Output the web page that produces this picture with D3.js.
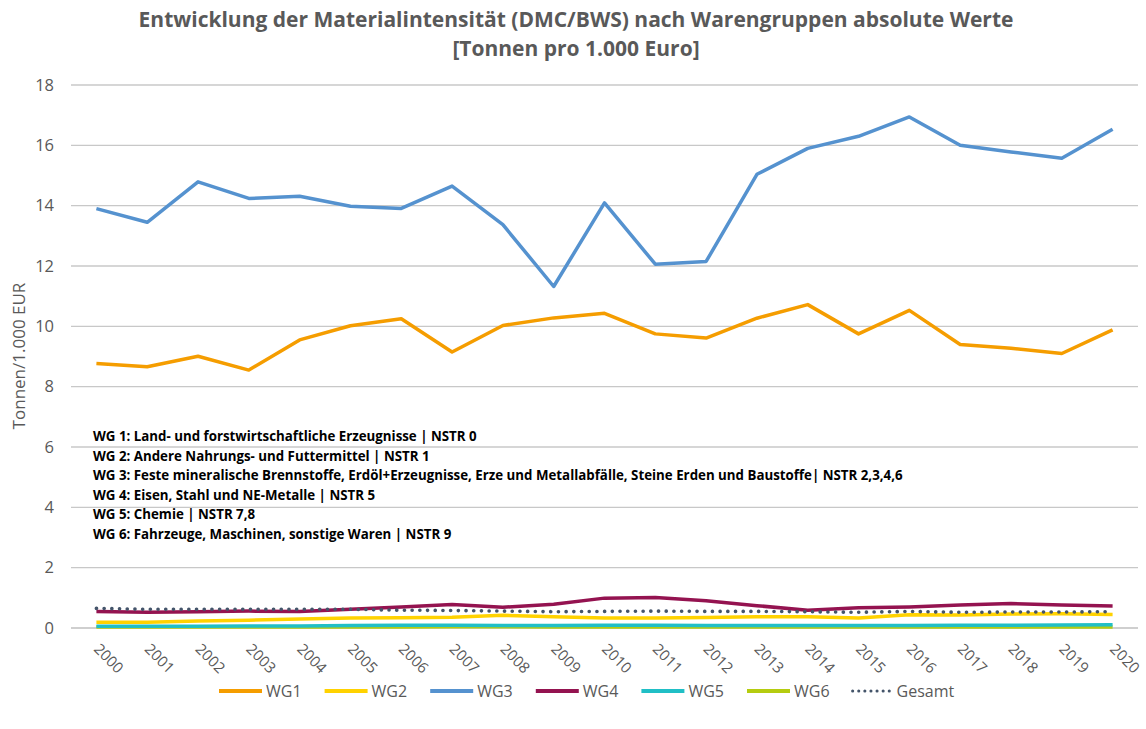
<!DOCTYPE html>
<html>
<head>
<meta charset="utf-8">
<script src="https://cdn.jsdelivr.net/npm/d3@7"></script>
<style>
  body { margin: 0; background: #fff; }
  svg { display: block; }
  text { font-family: "Open Sans", "Noto Sans", sans-serif; }
</style>
</head>
<body>
<div id="chart"></div>
<script>

var years = ["2000","2001","2002","2003","2004","2005","2006","2007","2008","2009","2010",
             "2011","2012","2013","2014","2015","2016","2017","2018","2019","2020"];

var wg1 = [8.77,8.66,9.01,8.55,9.55,10.02,10.25,9.15,10.03,10.28,10.43,9.75,9.61,10.27,10.72,9.75,10.53,9.40,9.27,9.10,9.88];
var wg2 = [0.19,0.19,0.23,0.26,0.30,0.33,0.34,0.36,0.42,0.37,0.33,0.33,0.35,0.37,0.37,0.33,0.44,0.43,0.46,0.47,0.45];
var wg3 = [13.90,13.45,14.79,14.24,14.31,13.98,13.91,14.65,13.37,11.32,14.09,12.06,12.15,15.04,15.90,16.30,16.94,16.00,15.78,15.57,16.53];
var wg4 = [0.55,0.52,0.54,0.56,0.55,0.62,0.70,0.78,0.69,0.79,0.99,1.01,0.90,0.74,0.59,0.67,0.70,0.76,0.81,0.76,0.73];
var wg5 = [0.06,0.06,0.06,0.07,0.07,0.08,0.09,0.09,0.08,0.08,0.09,0.09,0.08,0.08,0.08,0.08,0.08,0.09,0.09,0.10,0.11];
var wg6 = [0.03,0.03,0.03,0.03,0.03,0.03,0.03,0.04,0.04,0.03,0.03,0.03,0.03,0.03,0.03,0.03,0.03,0.03,0.03,0.03,0.03];
var gesamt = [0.65,0.62,0.62,0.62,0.62,0.62,0.59,0.58,0.56,0.54,0.55,0.56,0.55,0.55,0.54,0.52,0.55,0.52,0.53,0.53,0.54];

var yTicks = [0,2,4,6,8,10,12,14,16,18];

var notes = [
    "WG 1: Land- und forstwirtschaftliche Erzeugnisse | NSTR 0",
    "WG 2: Andere Nahrungs- und Futtermittel | NSTR 1",
    "WG 3: Feste mineralische Brennstoffe, Erdöl+Erzeugnisse, Erze und Metallabfälle, Steine Erden und Baustoffe| NSTR 2,3,4,6",
    "WG 4: Eisen, Stahl und NE-Metalle | NSTR 5",
    "WG 5: Chemie | NSTR 7,8",
    "WG 6: Fahrzeuge, Maschinen, sonstige Waren | NSTR 9"
];

// drawing order: the small ones first, big ones on top
var series = [
    { name: "WG6", values: wg6, color: "#b5cc10", dash: null },
    { name: "WG5", values: wg5, color: "#20bfc6", dash: null },
    { name: "WG2", values: wg2, color: "#ffd200", dash: null },
    { name: "WG4", values: wg4, color: "#941350", dash: null },
    { name: "Gesamt", values: gesamt, color: "#44546a", dash: "0.1 7.6" },
    { name: "WG3", values: wg3, color: "#5592cf", dash: null },
    { name: "WG1", values: wg1, color: "#f59d00", dash: null }
];
var legendOrder = ["WG1","WG2","WG3","WG4","WG5","WG6","Gesamt"];

var width = 1146, height = 729;
var plotLeft = 71, plotRight = 1138, plotTop = 85, plotBottom = 628;

var svg = d3.select("#chart").append("svg")
    .attr("width", width)
    .attr("height", height);

var x = d3.scalePoint().domain(years).range([plotLeft, plotRight]).padding(0.5);
var y = d3.scaleLinear().domain([0, 18]).range([plotBottom, plotTop]);

// title
var title = svg.append("text")
    .attr("x", 576)
    .attr("y", 27)
    .attr("text-anchor", "middle")
    .style("font-size", "21px")
    .style("font-weight", "bold")
    .style("fill", "#595959");
title.append("tspan").attr("x", 576).text("Entwicklung der Materialintensität (DMC/BWS) nach Warengruppen absolute Werte");
title.append("tspan").attr("x", 576).attr("dy", 29).text("[Tonnen pro 1.000 Euro]");

// gridlines
svg.append("g").selectAll("line")
    .data(yTicks)
  .enter()
    .append("line")
    .attr("x1", plotLeft)
    .attr("x2", plotRight)
    .attr("y1", function(d) { return y(d); })
    .attr("y2", function(d) { return y(d); })
    .style("stroke", function(d) { return d === 0 ? "#bfbfbf" : "#c8c8c8"; })
    .style("stroke-width", 1.3);

// y axis
var yAxis = svg.append("g")
    .attr("transform", "translate(" + plotLeft + ",0)")
    .call(d3.axisLeft(y).tickValues(yTicks).tickSize(0).tickPadding(17));
yAxis.select(".domain").remove();
yAxis.selectAll("text")
    .style("font-size", "16.5px")
    .style("fill", "#595959");

// x axis
var xAxis = svg.append("g")
    .attr("transform", "translate(0," + plotBottom + ")")
    .call(d3.axisBottom(x).tickSize(0));
xAxis.select(".domain").remove();
xAxis.selectAll("text")
    .style("font-size", "15px")
    .style("fill", "#595959")
    .style("text-anchor", "start")
    .attr("dy", null)
    .attr("y", 0)
    .attr("transform", "translate(-4,22) rotate(45)");

// y axis title
svg.append("text")
    .attr("transform", "translate(25,356) rotate(-90)")
    .attr("text-anchor", "middle")
    .style("font-size", "17px")
    .style("fill", "#595959")
    .text("Tonnen/1.000 EUR");

// notes
svg.append("g").selectAll("text")
    .data(notes)
  .enter()
    .append("text")
    .attr("x", 93)
    .attr("y", function(d, i) { return 441 + i * 19.5; })
    .style("font-size", "13.3px")
    .style("font-weight", "bold")
    .style("fill", "#000")
    .text(function(d) { return d; });

// lines
var line = d3.line()
    .x(function(d, i) { return x(years[i]); })
    .y(function(d) { return y(d); });

svg.append("g").selectAll("path")
    .data(series)
  .enter()
    .append("path")
    .attr("d", function(d) { return line(d.values); })
    .style("fill", "none")
    .style("stroke", function(d) { return d.color; })
    .style("stroke-width", function(d) { return d.dash ? 3.6 : 3.5; })
    .style("stroke-linejoin", "round")
    .style("stroke-linecap", function(d) { return d.dash ? "round" : "butt"; })
    .style("stroke-dasharray", function(d) { return d.dash; });

// legend
var byName = {};
series.forEach(function(s) { byName[s.name] = s; });

var legend = svg.append("g").selectAll("g")
    .data(legendOrder)
  .enter()
    .append("g")
    .attr("transform", function(d, i) { return "translate(" + (219 + i * 105.6) + ",691)"; });

legend.append("line")
    .attr("x1", 0)
    .attr("x2", function(d) { return d === "Gesamt" ? 38 : 43; })
    .attr("y1", 0)
    .attr("y2", 0)
    .style("stroke", function(d) { return byName[d].color; })
    .style("stroke-width", function(d) { return d === "Gesamt" ? 3 : 4; })
    .style("stroke-linecap", function(d) { return d === "Gesamt" ? "round" : "butt"; })
    .style("stroke-dasharray", function(d) { return d === "Gesamt" ? "0.1 6" : null; });

legend.append("text")
    .attr("x", function(d) { return d === "Gesamt" ? 44 : 47; })
    .attr("y", 6)
    .style("font-size", "16px")
    .style("fill", "#595959")
    .text(function(d) { return d; });

</script>
</body>
</html>
